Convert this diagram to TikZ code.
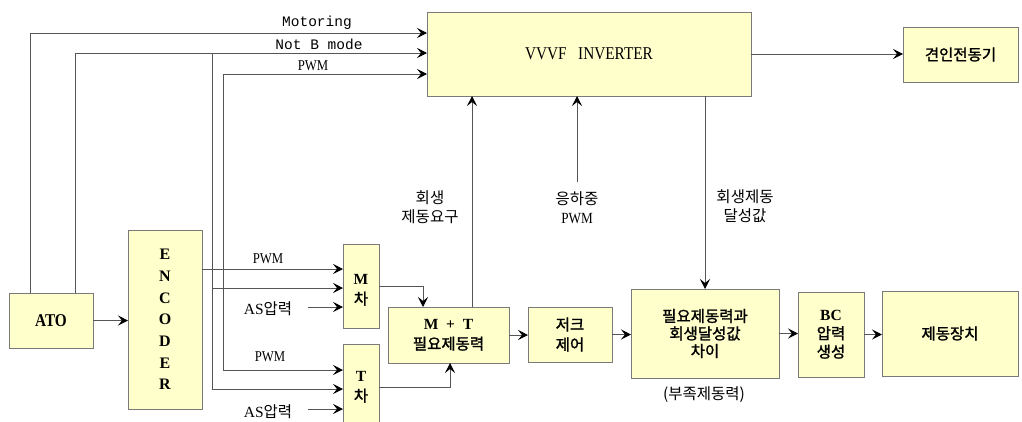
\documentclass[tikz,border=0pt]{standalone}
\usepackage{fontspec}
\setmainfont{Liberation Serif}
\setmonofont{Liberation Mono}
\newfontfamily\kr{Noto Sans CJK KR}
\newfontfamily\krb[FakeBold=1.6]{Noto Sans CJK KR}
\usetikzlibrary{arrows.meta}
\definecolor{boxfill}{HTML}{FFFFCC}
\definecolor{boxline}{HTML}{7A7A7A}
\definecolor{wire}{HTML}{555555}
\tikzset{
  box/.style={draw=boxline, fill=boxfill, line width=1pt, inner sep=0pt, outer sep=0pt, align=center},
  conn/.style={draw=wire, line width=1pt},
  arr/.style={conn, -{Stealth[length=10pt,width=10pt,inset=4pt,black]}},
  krtxt/.style={font=\kr\fontsize{15.5}{19}\selectfont, align=center, inner sep=0pt},
  krbox/.style={font=\krb\fontsize{15.5}{20}\selectfont},
  lbl/.style={inner sep=0pt, align=center},
}
\begin{document}
\begin{tikzpicture}[x=1pt,y=-1pt]
\useasboundingbox (0,0) rectangle (1022,421);

% boxes
\node[box, minimum width=324pt, minimum height=84pt, font=\fontsize{18}{20}\selectfont] (vvvf) at (589,54) {\scalebox{0.85}[1]{VVVF\ \ \ INVERTER}};
\node[box, krbox, minimum width=115pt, minimum height=55pt] (motor) at (960.5,54.5) {견인전동기};
\node[box, minimum width=84pt, minimum height=55pt, font=\bfseries\fontsize{18}{20}\selectfont] (ato) at (51,320.5) {\scalebox{0.85}[1]{ATO}};
\node[box, minimum width=74pt, minimum height=179pt, font=\bfseries\fontsize{16}{21.67}\selectfont] (enc) at (165,319.5) {E\\N\\C\\O\\D\\E\\R};
\node[box, minimum width=36pt, minimum height=84pt] (mcar) at (361,286) {};
\node[lbl, krbox] (mcarT) at (361,290) {{\rmfamily\bfseries M}\\차};
\node[box, minimum width=36pt, minimum height=86pt] (tcar) at (361,387) {};
\node[lbl, krbox] (tcarT) at (361,387) {{\rmfamily\bfseries T}\\차};
\node[box, krbox, minimum width=121pt, minimum height=56pt] (mt) at (448.5,335) {{\rmfamily\bfseries M\ \ +\ \ T}\\필요제동력};
\node[box, krbox, minimum width=84pt, minimum height=55pt] (jerk) at (570,334.5) {저크\\제어};
\node[box, minimum width=148pt, minimum height=89pt, font=\krb\fontsize{15.5}{17.5}\selectfont] (diff) at (705,333.5) {필요제동력과\\회생달성값\\차이};
\node[box, minimum width=66pt, minimum height=85pt, font=\krb\fontsize{15.5}{18.5}\selectfont] (bc) at (831,334.5) {{\rmfamily\bfseries BC}\\압력\\생성};
\node[box, krbox, minimum width=136pt, minimum height=85pt] (brake) at (950,333.5) {제동장치};

% labels
\node[lbl, font=\ttfamily\fontsize{14.5}{16}\selectfont] (lMot) at (317,23) {Motoring};
\node[lbl, font=\ttfamily\fontsize{14.5}{16}\selectfont] (lNotB) at (319,44) {Not B mode};
\node[lbl, font=\fontsize{15}{15}\selectfont] (lPWM0) at (313,66) {\scalebox{0.85}[1]{PWM}};
\node[lbl, font=\fontsize{15}{15}\selectfont] (lPWM1) at (268,259) {\scalebox{0.85}[1]{PWM}};
\node[lbl, font=\fontsize{15}{15}\selectfont] (lPWM2) at (270,357) {\scalebox{0.85}[1]{PWM}};
\node[krtxt] (lAS1) at (268,309) {{\rmfamily AS}압력};
\node[krtxt] (lAS2) at (268,412) {{\rmfamily AS}압력};
\node[krtxt] (lReq) at (430,207.5) {회생\\제동요구};
\node[krtxt] (lLoad) at (577,207.5) {응하중\\{\rmfamily\scalebox{0.85}[1]{PWM}}};
\node[krtxt] (lAch) at (745,206.5) {회생제동\\달성값};
\node[krtxt] (lLack) at (704,395) {(부족제동력)};

% coordinates
\coordinate (yMot) at (0,33);
\coordinate (yNotB) at (0,53);
\coordinate (yPWM) at (0,74);
\coordinate (yEncP) at (0,269);
\coordinate (jN) at (212,53);
\coordinate (jNb) at (212,288);
\coordinate (jNc) at (212,389);
\coordinate (jP) at (223,370);
\coordinate (as1s) at (308,307);
\coordinate (as2s) at (308,409);
\coordinate (loadS) at (577,182);

% connectors
\draw[arr] ([xshift=-21pt]ato.north) |- (vvvf.west |- yMot);
\draw[arr] ([xshift=24pt]ato.north) |- (vvvf.west |- yNotB);
\draw[conn] (jN) -- (jNc);
\draw[arr] (jNb) -- (mcar.west |- jNb);
\draw[arr] (jNc) -- (tcar.west |- jNc);
\draw[arr] (jP) |- (vvvf.west |- yPWM);
\draw[arr] (jP) -- (tcar.west |- jP);
\draw[arr] (enc.east |- yEncP) -- (mcar.west |- yEncP);
\draw[arr] (as1s) -- (mcar.west |- as1s);
\draw[arr] (as2s) -- (tcar.west |- as2s);
\draw[arr] (ato.east) -- (ato.east -| enc.west);
\draw[arr] (mcar.east) -| ([xshift=-25.5pt]mt.north);
\draw[arr] (tcar.east) -| ([xshift=1.5pt]mt.south);
\draw[arr] ([xshift=23.5pt]mt.north) -- ([xshift=23.5pt]mt.north |- vvvf.south);
\draw[arr] (loadS) -- (vvvf.south -| loadS);
\draw[arr] (vvvf.south -| diff.north) -- (diff.north);
\draw[arr] (vvvf.east) -- (vvvf.east -| motor.west);
\draw[arr] (mt.east) -- (mt.east -| jerk.west);
\draw[arr] (jerk.east) -- (jerk.east -| diff.west);
\draw[arr] (diff.east) -- (diff.east -| bc.west);
\draw[arr] (bc.east) -- (bc.east -| brake.west);
\end{tikzpicture}
\end{document}
